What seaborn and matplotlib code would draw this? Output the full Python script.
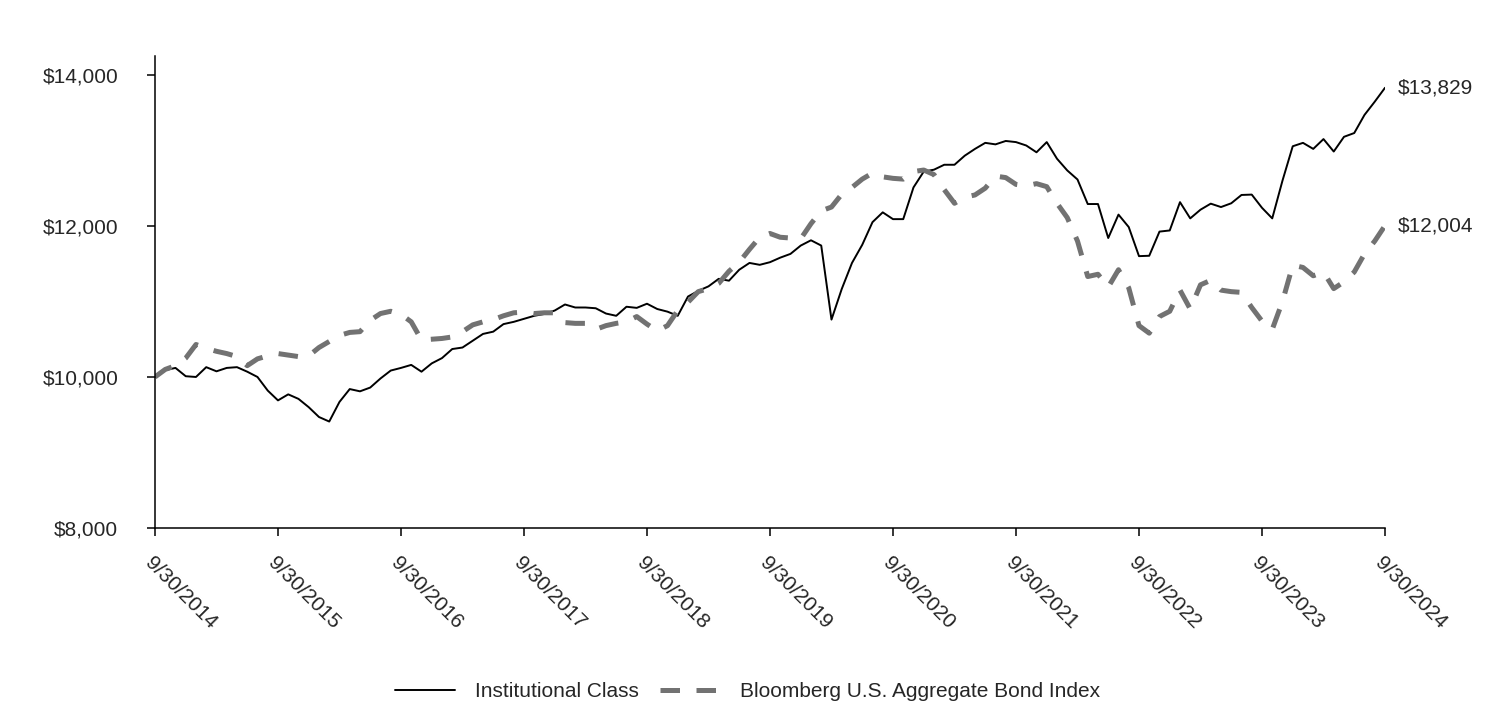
import seaborn as sns
import matplotlib.pyplot as plt
import pandas as pd

# Growth of $10,000, monthly values (9/30/2014 - 9/30/2024)
institutional = [
    10000, 10090, 10120, 10010, 10000, 10130, 10075, 10120, 10130, 10070,
    10000, 9820, 9690, 9770, 9710, 9600, 9470, 9410, 9670, 9840,
    9810, 9860, 9980, 10085, 10120, 10160, 10070, 10180, 10250, 10370,
    10390, 10480, 10570, 10600, 10700, 10730, 10770, 10810, 10835, 10880,
    10960, 10920, 10920, 10910, 10840, 10810, 10930, 10915, 10970, 10900,
    10865, 10810, 11065, 11140, 11200, 11300, 11275, 11420, 11510, 11485,
    11520, 11580, 11630, 11740, 11810, 11740, 10760, 11165, 11510, 11750,
    12050, 12180, 12090, 12090, 12510, 12720, 12745, 12810, 12810, 12930,
    13020, 13100, 13080, 13125, 13110, 13065, 12975, 13110, 12890, 12735,
    12615, 12290, 12290, 11840, 12150, 11985, 11600, 11605, 11925, 11940,
    12315, 12100, 12215, 12295, 12250, 12300, 12410, 12415, 12240, 12100,
    12600, 13055, 13100, 13020, 13150, 12985, 13180, 13230, 13470, 13645,
    13829,
]
bond_index = [
    10000, 10100, 10150, 10250, 10430, 10380, 10340, 10310, 10270, 10150,
    10240, 10280, 10310, 10290, 10270, 10280, 10390, 10470, 10550, 10590,
    10600, 10750, 10840, 10870, 10830, 10730, 10490, 10500, 10510, 10530,
    10600, 10690, 10730, 10760, 10810, 10850, 10860, 10840, 10850, 10850,
    10720, 10710, 10710, 10630, 10680, 10710, 10730, 10800, 10700, 10610,
    10680, 10880, 10990, 11130, 11170, 11240, 11400, 11520, 11690, 11850,
    11900, 11850, 11840, 11830, 12030, 12200, 12250, 12420, 12510, 12620,
    12700, 12650, 12630, 12620, 12720, 12740, 12680, 12480, 12300, 12380,
    12410, 12500, 12660, 12640, 12550, 12530, 12560, 12520, 12300, 12110,
    11800, 11330, 11360, 11190, 11420, 11180, 10680, 10580, 10800, 10870,
    11150, 10900, 11220, 11280, 11150, 11130, 11120, 10920, 10740, 10630,
    11000, 11480, 11450, 11340, 11390, 11170, 11260, 11390, 11630, 11800,
    12004,
]
tick_labels = ["9/30/2014", "9/30/2015", "9/30/2016", "9/30/2017", "9/30/2018", "9/30/2019",
               "9/30/2020", "9/30/2021", "9/30/2022", "9/30/2023", "9/30/2024"]
y_ticks = [8000, 10000, 12000, 14000]

df = pd.DataFrame({"month": range(len(institutional)),
                   "inst": institutional,
                   "bond": bond_index})

sns.set_style("white")
plt.rcParams["font.family"] = ["Liberation Sans", "DejaVu Sans"]

fig = plt.figure(figsize=(15.12, 7.08), dpi=100)
ax = fig.add_axes([0.1025, 0.2542, 0.8135, 0.6667])

sns.lineplot(data=df, x="month", y="inst", ax=ax, color="black", linewidth=1.4,
             label="Institutional Class")
sns.lineplot(data=df, x="month", y="bond", ax=ax, color="#727272", linewidth=3.6,
             linestyle=(0, (3.9, 3.3)), dash_capstyle="butt",
             label="Bloomberg U.S. Aggregate Bond Index")

ax.set_xlim(0, 120)
ax.set_ylim(8000, 14250)
ax.set_yticks(y_ticks)
ax.set_yticklabels([f"${v:,}" for v in y_ticks])
ax.set_xticks(range(0, 121, 12))
ax.set_xticklabels(tick_labels, rotation=-45, ha="left", va="top", rotation_mode="anchor")
ax.set_xlabel("")
ax.set_ylabel("")

for s in ["top", "right"]:
    ax.spines[s].set_visible(False)
for s in ["left", "bottom"]:
    ax.spines[s].set_color("black")
    ax.spines[s].set_linewidth(1.1)

ax.tick_params(axis="both", direction="out", length=5.5, width=1.1, color="black",
               labelsize=15, bottom=True, left=True)
ax.tick_params(axis="y", pad=21)
ax.tick_params(axis="x", pad=13)

# end-point value labels
ax.annotate(f"${institutional[-1]:,}", (120, institutional[-1]), xytext=(9, 0),
            textcoords="offset points", va="center", ha="left", fontsize=15)
ax.annotate(f"${bond_index[-1]:,}", (120, bond_index[-1]), xytext=(9, 0),
            textcoords="offset points", va="center", ha="left", fontsize=15)

ax.get_legend().remove()
handles, labels = ax.get_legend_handles_labels()
fig.legend(handles, labels, loc="center", bbox_to_anchor=(0.4944, 0.0226), ncol=2,
           frameon=False, fontsize=15, handlelength=2.87, handletextpad=0.96,
           columnspacing=1.0)

fig.savefig("out.png", dpi=100)
